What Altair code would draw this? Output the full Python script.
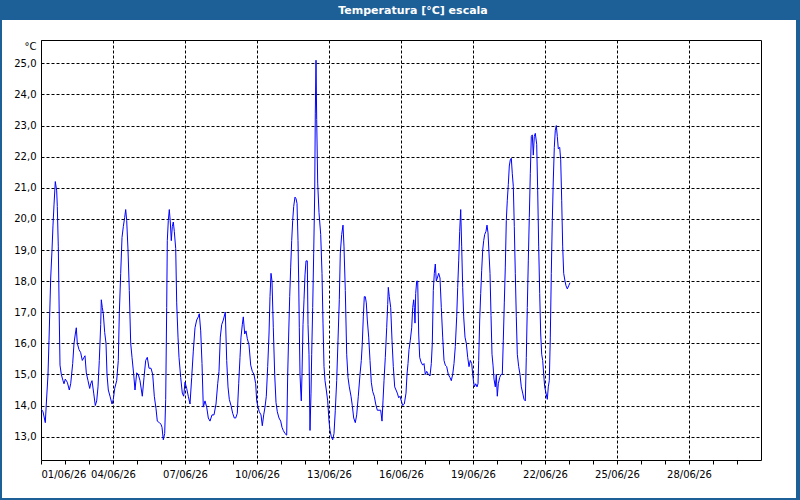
import altair as alt
import pandas as pd

# hours since 01/06/26 00:00
hours = [0,2,4.3,5.3,7,8,9.7,11,12,13,14.3,15.7,16.3,17.3,18.3,19,20.3,22,23,24.3,26.3,28.3,29.7,31.7,33,34.3,35.3,36.3,38,39.7,41.3,43,44,45.3,47,48.7,49.7,51,52.7,54.3,55.7,57,58.3,59.7,60.3,61.3,62.3,63.7,65,66,67.3,69,71,72.3,73.7,75.7,77.3,78.3,79.7,81,82.3,83.7,84.7,85.7,87,88.3,89.7,91,92.7,
    94,95.7,97.3,99,101.3,103,104.7,106.3,108,110,111.7,113.3,115,116.3,118.3,120,121,122.3,123.7,124.7,125.7,126.3,127.3,128.3,129.3,130.3,131.3,132.3,133.3,134.7,135.7,137,138,139.7,141.3,142.7,144,145.7,147.3,149,150.7,152.3,154,155.7,157.3,158.3,159.7,161,162.3,164,165.7,167.3,169,171,173,175,176.7,178,179.3,180.7,182.3,184.3,
    185.7,187,188.3,190,191.7,193.3,194.7,196.3,197.7,199,200,201.3,202.3,203.7,205,206.3,208,209.7,211.3,213,214.7,215.7,217,218.3,220,221.3,222.7,224,225.3,226.7,228,229,230,231,232.3,233.7,235,236.3,238,239.7,241,242.3,244,245.7,246.7,247.7,248.7,249.7,250.7,251.7,252.7,254,255,256,257,257.7,258.3,259,259.7,260.3,261,262,263,264,265,266.3,267,268,269,
    270,270.7,271.7,272.7,273.7,274.3,275,275.7,276.7,278,279.7,281,282,283,284,285.3,286.7,288,289,290.3,291.7,293,294.3,295.7,297,298.3,299.3,300.7,302,303,304.3,305.7,307,308.3,310,311.3,312.7,314.3,315.7,317.3,319,320.3,321.3,322.3,323.3,324.3,325.3,326.3,327.7,329,330.3,331.7,333.3,334.7,336.3,338,339.7,341,342,343,344.3,345.7,346.7,347.3,348.3,349.7,351,352.3,353.7,355,356.3,357.7,359,360.3,361.7,363.3,
    365,366,367,368,369.3,370.7,371.7,372.7,373.3,374,374.7,375.7,376.7,377.7,378.7,380,381.7,383,384.3,385.7,387.3,389,390.3,391.3,392.3,393.3,394.3,395.3,396.3,397.7,399,400.3,401.7,403,404.3,405.7,407.3,409,410.3,411.7,413,414.3,415.7,416.7,417.7,418.7,419.7,420.7,421.7,422.7,424,425.3,426.7,428,429.3,430.7,432,433.3,434.7,436,437,437.7,438.7,439.7,440.7,441.7,442.7,443.7,445,446,447,448,449,450,451,452,453,454.3,
    455.3,456.3,457.3,458.7,460,461.3,462.3,463.3,464.3,465.3,466.3,467.3,468.3,469.3,470.3,471.3,472.3,473.3,474.3,475.3,476.3,477.7,479,480.3,481.7,483,484.3,485.3,486.3,487.3,488.3,489.3,490.3,491.3,492.3,493.3,494.3,495.7,496.7,497.7,498.7,499.7,500.7,501.7,502.7,503.7,505,506.3,507.3,508.3,509.3,510.3,511.3,512.3,513.3,514.3,515.3,516.3,517.3,518.7,519.7,520.7,521.7,522.7,524,525,526.3,527.7,529]

temps = [13.9,13.8,13.45,14.05,15.0,16.1,18.1,19.0,19.8,20.45,21.2,20.9,20.4,19.1,16.75,15.3,15.0,14.8,14.7,14.85,14.75,14.5,14.7,15.35,16.0,16.3,16.5,16.0,15.8,15.7,15.45,15.55,15.6,15.05,14.8,14.55,14.7,14.8,14.4,14.0,14.15,14.6,15.45,16.6,17.4,17.15,16.95,16.35,16.0,15.0,14.5,14.3,14.05,14.2,14.55,14.8,15.45,16.95,18.25,19.4,19.75,20.05,20.3,19.95,19.0,17.7,16.0,15.55,15.0,
    14.5,15.05,15.0,14.8,14.3,14.9,15.45,15.55,15.2,15.2,15.0,14.3,13.9,13.5,13.45,13.4,13.3,12.9,13.1,14.2,17.15,19.3,19.95,20.3,19.9,19.3,19.75,19.9,19.6,19.05,17.3,16.2,15.55,14.9,14.4,14.3,14.75,14.55,14.3,14.05,14.9,15.75,16.5,16.75,16.85,16.95,16.4,15.35,13.95,14.15,13.95,13.6,13.5,13.7,13.7,14.05,14.7,15.1,16.2,16.6,16.75,17.0,
    15.45,14.6,14.2,14.0,13.75,13.6,13.6,13.75,14.7,15.55,16.2,16.6,16.85,16.3,16.4,16.15,15.95,15.3,15.1,15.0,14.7,14.15,13.95,13.8,13.7,13.35,13.7,13.95,14.3,15.25,16.3,17.5,18.25,18.0,16.5,15.0,14.1,13.8,13.6,13.5,13.3,13.2,13.1,13.05,15.0,16.3,17.5,18.45,19.3,19.95,20.4,20.7,20.65,20.5,19.3,18.0,16.5,15.0,14.5,14.15,15.0,16.6,17.4,18.2,18.65,18.65,16.6,15.65,13.2,
    14.4,15.65,17.15,18.9,20.8,23.4,25.1,23.2,21.15,20.2,19.5,18.25,16.65,15.25,14.8,14.5,14.15,13.5,13.2,13.0,12.9,13.1,13.85,14.8,16.1,17.4,18.9,19.5,19.8,19.1,17.7,15.65,14.9,14.6,14.3,14.0,13.6,13.45,13.7,14.3,15.0,15.45,16.0,16.85,17.5,17.5,17.3,16.75,16.2,15.45,14.75,14.45,14.3,14.05,13.85,13.85,13.85,13.5,14.15,14.8,15.55,16.5,17.25,17.8,17.5,17.15,16.1,15.25,14.6,14.5,14.4,14.25,14.3,14.15,14.0,14.05,
    14.4,15.0,15.35,15.8,16.1,16.5,17.15,17.4,17.15,16.65,17.6,18.0,18.0,16.3,15.55,15.4,15.3,15.35,15.0,15.1,15.0,14.95,15.35,16.0,17.7,18.25,18.55,18.0,18.1,18.25,18.1,17.15,16.2,15.45,15.3,15.25,15.0,14.9,14.8,15.0,15.35,15.9,16.85,17.8,18.65,19.6,20.3,19.1,17.8,16.85,16.2,16.0,15.55,15.25,15.45,15.35,14.9,14.6,14.7,14.6,14.7,15.45,16.75,17.6,18.35,19.0,19.3,19.5,19.6,19.8,19.55,18.9,18.25,16.9,15.65,15.3,14.85,14.6,
    15.0,14.3,14.7,14.9,15.0,15.0,16.1,17.3,18.45,19.95,20.6,21.1,21.7,21.9,21.95,21.45,21.05,19.75,18.25,16.85,15.65,15.25,15.0,14.6,14.4,14.2,14.15,15.55,17.15,18.65,20.05,21.45,22.65,22.7,22.05,22.65,22.75,22.4,20.9,19.1,17.6,16.3,15.65,15.45,15.0,14.6,14.4,14.2,14.6,14.8,16.2,18.25,19.95,21.25,22.3,22.85,23.0,22.65,22.25,22.3,21.9,20.6,19.1,18.25,18.0,17.85,17.75,17.85,17.95]

title_text = "Temperatura [°C] escala"
y_unit = "°C"
x_tick_days = list(range(0, 30))
y_ticks = list(range(13, 26))

df = pd.DataFrame({"day": [h / 24 for h in hours], "temp": temps})

FONT = "DejaVu Sans"
BLUE = "#1d5f97"

line = alt.Chart(df).mark_line(color="#0000ff", strokeWidth=1, clip=True).encode(
    x=alt.X("day:Q",
            scale=alt.Scale(domain=[0, 30], nice=False, zero=False),
            axis=alt.Axis(values=x_tick_days, title=None, domain=False,
                          labelExpr="datum.value % 3 == 0 ? ((datum.value + 1 < 10 ? '0' : '') + (datum.value + 1) + '/06/26') : ''",
                          labelOverlap=False, labelFont=FONT, labelFontSize=10,
                          labelColor="#000000", labelPadding=5, tickSize=4,
                          tickColor="#000000",
                          gridColor="#000000", gridDash=[3, 2], gridWidth=1,
                          gridOpacity={"condition": {"test": "datum.value % 3 == 0", "value": 1}, "value": 0})),
    y=alt.Y("temp:Q",
            scale=alt.Scale(domain=[12.25, 25.75], nice=False, zero=False),
            axis=alt.Axis(values=y_ticks, title=y_unit, titleAngle=0, titleAlign="right",
                          titleBaseline="middle", titleX=-5, titleY=6,
                          titleFont=FONT, titleFontSize=10, titleFontWeight="normal",
                          titleColor="#000000",
                          domain=False, tickSize=0, labelPadding=5,
                          labelExpr="replace(format(datum.value, '.1f'), '.', ',')",
                          labelFont=FONT, labelFontSize=10, labelColor="#000000",
                          gridColor="#000000", gridDash=[3, 2], gridWidth=1)),
)

one = pd.DataFrame({"t": [title_text]})
base = alt.Chart(one)

bar = base.mark_rect(color=BLUE).encode(
    x=alt.value(-41), x2=alt.value(759), y=alt.value(-40), y2=alt.value(-20))
left_b = base.mark_rect(color=BLUE).encode(
    x=alt.value(-41), x2=alt.value(-39), y=alt.value(-20), y2=alt.value(460))
right_b = base.mark_rect(color=BLUE).encode(
    x=alt.value(755), x2=alt.value(759), y=alt.value(-20), y2=alt.value(460))
bottom_b = base.mark_rect(color=BLUE).encode(
    x=alt.value(-41), x2=alt.value(759), y=alt.value(458), y2=alt.value(460))
title = base.mark_text(color="white", font=FONT, fontSize=11, fontWeight="bold",
                       align="center", baseline="middle").encode(
    x=alt.value(372), y=alt.value(-29.5), text="t:N")

chart = alt.layer(line, bar, left_b, right_b, bottom_b, title).properties(
    width=720, height=420,
    autosize=alt.AutoSizeParams(type="none"),
    padding={"left": 41, "top": 40, "right": 39, "bottom": 40},
    background="white",
).configure_view(stroke="#000000", strokeWidth=1)

chart.save("out.html", embed_options={"renderer": "svg", "actions": False})
